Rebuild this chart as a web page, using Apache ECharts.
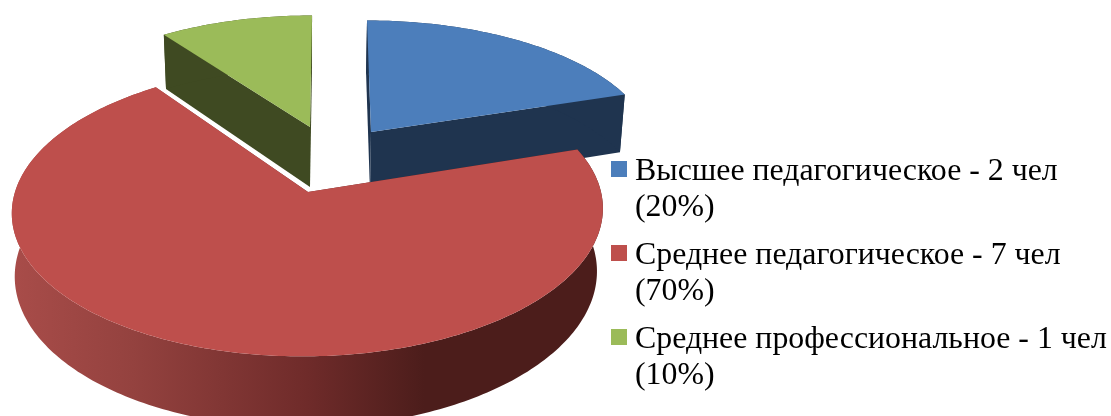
<!DOCTYPE html>
<html>
<head>
<meta charset="utf-8">
<style>
    html, body { margin: 0; padding: 0; background: #fff; }
    #main { width: 1111px; height: 416px; }
</style>
<script src="https://cdn.jsdelivr.net/npm/echarts@6/dist/echarts.min.js"></script>
</head>
<body>
<div id="main"></div>
<script>
    // данные с картинки
    var categories = ['Высшее педагогическое - 2 чел', 'Среднее педагогическое - 7 чел', 'Среднее профессиональное - 1 чел'];
    var people = [2, 7, 1];
    var percents = ['20%', '70%', '10%'];

    var topColors = ['#4c7ebb', '#be4f4c', '#9bbb59'];
    var wallColors = ['#1f344f', null, '#3f4a22'];

    // у каждого сектора свой центр и масштаб: диаграмма с перспективой и выносом секторов
    var sliceCx = [371, 308, 310];
    var sliceCy = [132, 192, 127];
    var sliceA = [279, 293, 278];
    var sliceB = [126, 143, 126];
    var sliceS = [4.5, -5, -2.3];
    var sliceDepth = [60, 62, 60];
    var sliceLowDx = [-1, -1.5, 0];
    var perspective = 0.13;
    var bottomScale = 0.985;

    var total = people.reduce(function (a, b) { return a + b; }, 0);

    function project(i, deg, r, lower) {
        var t = deg * Math.PI / 180;
        var x = r * Math.sin(t), y = -r * Math.cos(t);
        var w = 1 - perspective * y;
        var f = lower ? bottomScale : 1;
        return [
            sliceCx[i] + (lower ? sliceLowDx[i] : 0) + (sliceA[i] * x + sliceS[i] * y) * f / w,
            sliceCy[i] + (sliceB[i] * y + (lower ? sliceDepth[i] : 0)) / w
        ];
    }

    function arc(i, from, to, lower) {
        var pts = [];
        for (var d = from; d < to; d += 1) {
            pts.push(project(i, d, 1, lower));
        }
        pts.push(project(i, to, 1, lower));
        return pts;
    }

    function wallFill(i) {
        if (wallColors[i]) return wallColors[i];
        return new echarts.graphic.LinearGradient(15, 0, 600, 0, [
            {offset: 0, color: '#a84c49'},
            {offset: 0.2, color: '#94423f'},
            {offset: 0.5, color: '#6f2b2a'},
            {offset: 0.7, color: '#4c1d1b'},
            {offset: 1, color: '#4c1d1b'}
        ], true);
    }

    function renderSlice(i) {
        return function (params, api) {
            var before = 0;
            for (var k = 0; k < i; k++) before += people[k];
            var from = before / total * 360;
            var to = from + api.value(0) / total * 360;
            var fill = wallFill(i);
            var topArc = arc(i, from, to, false);
            var lowArc = arc(i, from, to, true);
            var apexTop = project(i, 0, 0, false);
            var apexLow = project(i, 0, 0, true);

            var radial = function (p, q) {
                return {type: 'polygon', shape: {points: [apexTop, p, q, apexLow]}, style: {fill: fill}};
            };
            return {
                type: 'group',
                children: [
                    radial(topArc[0], lowArc[0]),
                    radial(topArc[topArc.length - 1], lowArc[lowArc.length - 1]),
                    {type: 'polygon', shape: {points: topArc.concat(lowArc.slice().reverse())}, style: {fill: fill}},
                    {type: 'polygon', shape: {points: [apexTop].concat(topArc)}, style: {fill: topColors[i]}}
                ]
            };
        };
    }

    var myChart = echarts.init(document.getElementById('main'));
    var legendNames = categories.map(function (c, i) { return c + ' (' + percents[i] + ')'; });

    myChart.setOption({
        animation: false,
        backgroundColor: '#fff',
        legend: {
            orient: 'vertical',
            left: 606,
            top: 123,
            itemWidth: 16,
            itemHeight: 16,
            itemGap: -12,
            icon: 'rect',
            data: legendNames,
            // пустая первая строка, чтобы значок стоял у первой строки текста
            formatter: function (name) {
                var parts = name.split(' (');
                return '{gap| }\n{t|' + parts[0] + '}\n{t|(' + parts[1] + '}';
            },
            textStyle: {
                padding: [0, 0, 0, 3],
                rich: {
                    gap: {fontSize: 10, lineHeight: 42},
                    t: {fontFamily: 'Liberation Serif', fontSize: 31.85, lineHeight: 36, color: '#000'}
                }
            }
        },
        series: categories.map(function (c, i) {
            return {
                type: 'custom',
                name: legendNames[i],
                coordinateSystem: 'none',
                itemStyle: {color: topColors[i]},
                renderItem: renderSlice(i),
                data: [[people[i]]]
            };
        })
    });
</script>
</body>
</html>
